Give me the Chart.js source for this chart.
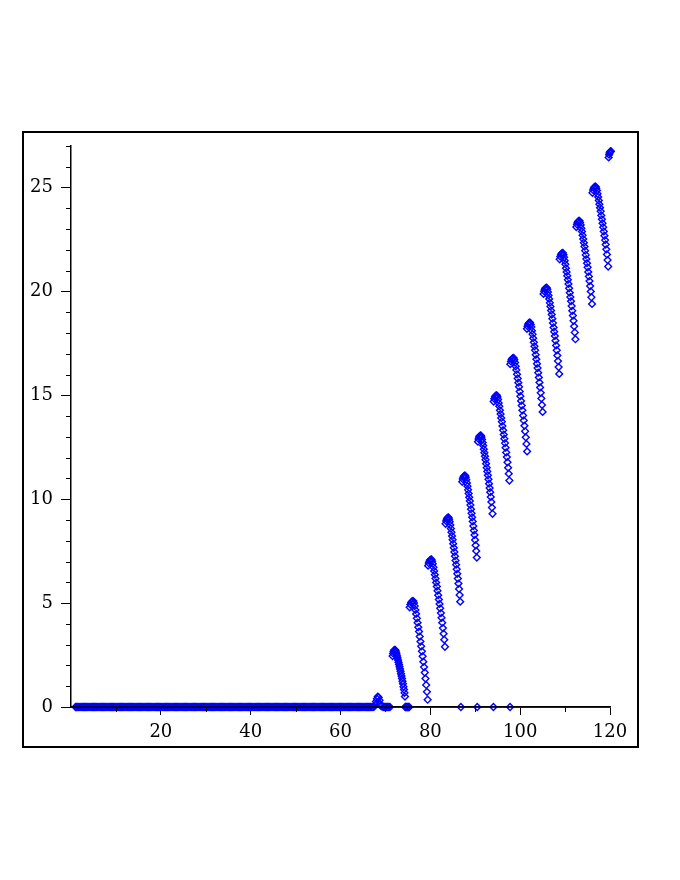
<!DOCTYPE html>
<html>
<head>
<meta charset="utf-8">
<script src="https://cdn.jsdelivr.net/npm/chart.js@4.4.1/dist/chart.umd.min.js"></script>
<style>
html,body{margin:0;padding:0;background:#ffffff;}
#wrap{width:680px;height:880px;position:relative;}
canvas{display:block;}
</style>
</head>
<body>
<div id="wrap"><canvas id="c" width="680" height="880"></canvas></div>
<script>
// ---- tick labels ----
const xTickLabels = [20, 40, 60, 80, 100, 120];
const yTickLabels = [0, 5, 10, 15, 20, 25];
const xMinorTicks = [10, 30, 50, 70, 90, 110];
const yMinorTicks = [1,2,3,4,6,7,8,9,11,12,13,14,16,17,18,19,21,22,23,24,26,27];

// ---- data: points lying on y = 0 ----
const baseX = [1,1.5,2,2.5,3,3.5,4,4.5,5,5.5,6,6.5,7,7.5,8,8.5,9,9.5,10,10.5,11,11.5,12,12.5,13,13.5,14,14.5,15,15.5,16,16.5,17,17.5,18,18.5,19,19.5,20,20.5,21,21.5,22,22.5,23,23.5,24,24.5,25,25.5,26,26.5,27,27.5,28,28.5,29,29.5,30,30.5,31,31.5,32,32.5,33,33.5,34,34.5,35,35.5,36,36.5,37,37.5,38,38.5,39,39.5,40,40.5,41,41.5,42,42.5,43,43.5,44,44.5,45,45.5,46,46.5,47,47.5,48,48.5,49,49.5,50,50.5,51,51.5,52,52.5,53,53.5,54,54.5,55,55.5,56,56.5,57,57.5,58,58.5,59,59.5,60,60.5,61,61.5,62,62.5,63,63.5,64,64.5,65,65.5,66,66.5,67,69.5,70,70.5,71];
const baseXq = [1.25,1.75,2.25,2.75,3.25,3.75,4.25,4.75,5.25,5.75,6.25,6.75,7.25,7.75,8.25,8.75,9.25,9.75,10.25,10.75,11.25,11.75,12.25,12.75,13.25,13.75,14.25,14.75,15.25,15.75,16.25,16.75,17.25,17.75,18.25,18.75,19.25,19.75,20.25,20.75,21.25,21.75,22.25,22.75,23.25,23.75,24.25,24.75,25.25,25.75,26.25,26.75,27.25,27.75,28.25,28.75,29.25,29.75,30.25,30.75,31.25,31.75,32.25,32.75,33.25,33.75,34.25,34.75,35.25,35.75,36.25,36.75,37.25,37.75,38.25,38.75,39.25,39.75,40.25,40.75,41.25,41.75,42.25,42.75,43.25,43.75,44.25,44.75,45.25,45.75,46.25,46.75,47.25,47.75,48.25,48.75,49.25,49.75,50.25,50.75,51.25,51.75,52.25,52.75,53.25,53.75,54.25,54.75,55.25,55.75,56.25,56.75,57.25,57.75,58.25,58.75,59.25,59.75,60.25,60.75,61.25,61.75,62.25,62.75,63.25,63.75,64.25,64.75,65.25,65.75,66.25,66.75,67.25,69.75,70.25,70.75];
const zeroX = [74.4,74.55,74.7,74.85,75.0,75.15,75.3,86.8,90.45,94.05,97.75];

// ---- data: small bump and the rising teeth ----
const bump = [[67.5,0.02],[67.7,0.1],[67.9,0.26],[68.1,0.4],[68.3,0.5],[68.5,0.46],[68.7,0.32],[68.9,0.14],[69.1,0.03]];
const segA = [[71.6,2.45],[71.71,2.58],[71.82,2.67],[71.93,2.72],[72.04,2.745],[72.15,2.75],[72.26,2.71],[72.37,2.64],[72.48,2.55],[72.59,2.46],[72.7,2.36],[72.81,2.26],[72.92,2.15],[73.03,2.05],[73.14,1.94],[73.25,1.83],[73.36,1.72],[73.47,1.6],[73.58,1.49],[73.69,1.37],[73.8,1.24],[73.91,1.12],[74.02,0.98],[74.13,0.84],[74.24,0.68],[74.35,0.5]];
const segB = [[75.4,4.8],[75.56,4.93],[75.72,5.02],[75.88,5.07],[76.04,5.095],[76.2,5.1],[76.36,5.01],[76.52,4.86],[76.68,4.67],[76.84,4.48],[77,4.27],[77.16,4.06],[77.32,3.84],[77.48,3.63],[77.64,3.39],[77.8,3.15],[77.96,2.92],[78.12,2.68],[78.28,2.44],[78.44,2.18],[78.6,1.92],[78.76,1.66],[78.92,1.37],[79.08,1.06],[79.24,0.73],[79.4,0.35]];
const segC = [[79.5,6.8],[79.65,6.93],[79.8,7.02],[79.95,7.07],[80.1,7.095],[80.25,7.1],[80.4,7.02],[80.55,6.89],[80.7,6.72],[80.85,6.55],[81,6.37],[81.15,6.18],[81.3,5.99],[81.45,5.8],[81.6,5.59],[81.75,5.38],[81.9,5.17],[82.05,4.96],[82.2,4.75],[82.35,4.52],[82.5,4.29],[82.65,4.06],[82.8,3.8],[82.95,3.53],[83.1,3.24],[83.25,2.9]];
const segD = [[83.4,8.82],[83.53,8.95],[83.66,9.04],[83.79,9.09],[83.92,9.115],[84.05,9.12],[84.18,9.04],[84.31,8.92],[84.44,8.76],[84.57,8.59],[84.7,8.41],[84.83,8.23],[84.96,8.05],[85.09,7.86],[85.22,7.66],[85.35,7.46],[85.48,7.26],[85.61,7.05],[85.74,6.85],[85.87,6.63],[86,6.41],[86.13,6.18],[86.26,5.94],[86.39,5.68],[86.52,5.39],[86.65,5.07]];
const segE = [[87.1,10.84],[87.23,10.97],[87.36,11.06],[87.49,11.11],[87.62,11.135],[87.75,11.14],[87.88,11.06],[88.01,10.94],[88.14,10.78],[88.27,10.63],[88.4,10.45],[88.53,10.27],[88.66,10.09],[88.79,9.92],[88.92,9.72],[89.05,9.52],[89.18,9.32],[89.31,9.13],[89.44,8.93],[89.57,8.71],[89.7,8.49],[89.83,8.28],[89.96,8.04],[90.09,7.78],[90.22,7.51],[90.35,7.19]];
const segF = [[90.6,12.77],[90.73,12.9],[90.86,12.99],[90.99,13.04],[91.12,13.065],[91.25,13.07],[91.38,12.99],[91.51,12.88],[91.64,12.73],[91.77,12.58],[91.9,12.41],[92.03,12.24],[92.16,12.07],[92.29,11.9],[92.42,11.71],[92.55,11.52],[92.68,11.34],[92.81,11.15],[92.94,10.96],[93.07,10.75],[93.2,10.54],[93.33,10.34],[93.46,10.11],[93.59,9.87],[93.72,9.6],[93.85,9.3]];
const segG = [[94.1,14.7],[94.24,14.83],[94.38,14.92],[94.52,14.97],[94.66,14.995],[94.8,15],[94.94,14.92],[95.08,14.8],[95.22,14.63],[95.36,14.47],[95.5,14.28],[95.64,14.1],[95.78,13.91],[95.92,13.73],[96.06,13.52],[96.2,13.32],[96.34,13.11],[96.48,12.91],[96.62,12.7],[96.76,12.48],[96.9,12.25],[97.04,12.03],[97.18,11.78],[97.32,11.52],[97.46,11.23],[97.6,10.9]];
const segH = [[97.8,16.5],[97.95,16.63],[98.1,16.72],[98.25,16.77],[98.4,16.795],[98.55,16.8],[98.7,16.71],[98.85,16.58],[99,16.4],[99.15,16.22],[99.3,16.01],[99.45,15.81],[99.6,15.61],[99.75,15.41],[99.9,15.18],[100.05,14.96],[100.2,14.73],[100.35,14.51],[100.5,14.28],[100.65,14.03],[100.8,13.79],[100.95,13.54],[101.1,13.27],[101.25,12.98],[101.4,12.66],[101.55,12.3]];
const segI = [[101.5,18.2],[101.64,18.33],[101.78,18.42],[101.92,18.47],[102.06,18.495],[102.2,18.5],[102.34,18.41],[102.48,18.29],[102.62,18.11],[102.76,17.94],[102.9,17.75],[103.04,17.55],[103.18,17.36],[103.32,17.17],[103.46,16.95],[103.6,16.74],[103.74,16.52],[103.88,16.31],[104.02,16.09],[104.16,15.86],[104.3,15.62],[104.44,15.38],[104.58,15.12],[104.72,14.85],[104.86,14.54],[105,14.2]];
const segJ = [[105.2,19.88],[105.34,20.01],[105.48,20.1],[105.62,20.15],[105.76,20.175],[105.9,20.18],[106.04,20.1],[106.18,19.97],[106.32,19.81],[106.46,19.64],[106.6,19.45],[106.74,19.27],[106.88,19.08],[107.02,18.89],[107.16,18.69],[107.3,18.48],[107.44,18.27],[107.58,18.06],[107.72,17.86],[107.86,17.63],[108,17.4],[108.14,17.17],[108.28,16.92],[108.42,16.65],[108.56,16.36],[108.7,16.03]];
const segK = [[108.8,21.55],[108.94,21.68],[109.08,21.77],[109.22,21.82],[109.36,21.845],[109.5,21.85],[109.64,21.77],[109.78,21.64],[109.92,21.48],[110.06,21.31],[110.2,21.12],[110.34,20.94],[110.48,20.75],[110.62,20.56],[110.76,20.36],[110.9,20.15],[111.04,19.94],[111.18,19.73],[111.32,19.53],[111.46,19.3],[111.6,19.07],[111.74,18.84],[111.88,18.59],[112.02,18.32],[112.16,18.03],[112.3,17.7]];
const segL = [[112.5,23.1],[112.64,23.23],[112.78,23.32],[112.92,23.37],[113.06,23.395],[113.2,23.4],[113.34,23.32],[113.48,23.2],[113.62,23.04],[113.76,22.88],[113.9,22.7],[114.04,22.52],[114.18,22.34],[114.32,22.16],[114.46,21.96],[114.6,21.76],[114.74,21.56],[114.88,21.36],[115.02,21.16],[115.16,20.94],[115.3,20.72],[115.44,20.5],[115.58,20.26],[115.72,20],[115.86,19.72],[116,19.4]];
const segM = [[116.1,24.75],[116.24,24.88],[116.38,24.97],[116.52,25.02],[116.66,25.045],[116.8,25.05],[116.94,24.97],[117.08,24.86],[117.22,24.7],[117.36,24.55],[117.5,24.38],[117.64,24.2],[117.78,24.03],[117.92,23.86],[118.06,23.66],[118.2,23.47],[118.34,23.28],[118.48,23.09],[118.62,22.89],[118.76,22.68],[118.9,22.47],[119.04,22.26],[119.18,22.03],[119.32,21.78],[119.46,21.51],[119.6,21.2]];
const segN = [[119.7,26.45],[119.8,26.58],[119.9,26.66],[120.0,26.71],[120.1,26.74],[120.2,26.75]];

const teeth = [bump, segA, segB, segC, segD, segE, segF, segG, segH, segI, segJ, segK, segL, segM, segN];

const points = [];
baseX.forEach(x => points.push({x: x, y: 0}));
baseXq.forEach(x => points.push({x: x, y: 0}));
zeroX.forEach(x => points.push({x: x, y: 0}));
teeth.forEach(seg => seg.forEach(p => points.push({x: p[0], y: p[1]})));

const FONT = {family: "'DejaVu Serif', serif", size: 18};

const decor = {
  id: 'decor',
  afterDatasetsDraw(chart) {
    const ctx = chart.ctx;
    const xs = chart.scales.x, ys = chart.scales.y;
    ctx.save();
    ctx.strokeStyle = '#000';
    ctx.lineWidth = 1.5;
    const y0 = ys.getPixelForValue(0);
    const x0 = xs.getPixelForValue(0);
    ctx.beginPath();
    ctx.moveTo(x0, y0); ctx.lineTo(xs.getPixelForValue(120), y0);
    ctx.stroke();
    ctx.lineWidth = 1;
    ctx.beginPath();
    xMinorTicks.forEach(v => {
      const px = Math.round(xs.getPixelForValue(v)) + 0.5;
      ctx.moveTo(px, y0); ctx.lineTo(px, y0 + 5);
    });
    yMinorTicks.forEach(v => {
      const py = Math.round(ys.getPixelForValue(v)) + 0.5;
      ctx.moveTo(x0 - 5, py); ctx.lineTo(x0, py);
    });
    ctx.stroke();
    ctx.lineWidth = 2;
    ctx.strokeRect(23, 132, 615, 615);
    ctx.restore();
  }
};

new Chart(document.getElementById('c'), {
  type: 'scatter',
  data: {
    datasets: [{
      data: points,
      showLine: false,
      pointStyle: 'rectRot',
      pointRadius: 3.4,
      pointHoverRadius: 3.4,
      pointBorderWidth: 1.4,
      borderColor: '#0000ff',
      pointBorderColor: '#0000ff',
      pointBackgroundColor: 'rgba(0,0,0,0)',
      backgroundColor: 'rgba(0,0,0,0)',
      clip: false
    }]
  },
  options: {
    responsive: false,
    animation: false,
    devicePixelRatio: 1,
    layout: {padding: {left: 0, right: 70, top: 146, bottom: 133}},
    plugins: {legend: {display: false}, tooltip: {enabled: false}},
    scales: {
      x: {
        type: 'linear', position: 'bottom', min: 0, max: 120,
        afterBuildTicks: s => { s.ticks = [0].concat(xTickLabels).map(v => ({value: v})); },
        afterFit: s => { s.height = 40; },
        ticks: {
          font: FONT, color: '#000', padding: 7, maxRotation: 0, autoSkip: false,
          callback: v => (v === 0 ? '' : String(v))
        },
        grid: {
          display: true, drawOnChartArea: false, drawTicks: true, tickLength: 8,
          tickWidth: 1,
          tickColor: c => (c.tick && c.tick.value === 0 ? 'rgba(0,0,0,0)' : '#000')
        },
        border: {display: true, color: '#000', width: 1.5}
      },
      y: {
        type: 'linear', position: 'left', min: 0, max: 27,
        afterBuildTicks: s => { s.ticks = yTickLabels.map(v => ({value: v})); },
        afterFit: s => { s.width = 71; },
        ticks: {font: FONT, color: '#000', padding: 8, autoSkip: false,
                callback: v => String(v)},
        grid: {display: true, drawOnChartArea: false, drawTicks: true, tickLength: 10,
               tickWidth: 1, tickColor: '#000'},
        border: {display: true, color: '#000', width: 1.5}
      }
    }
  },
  plugins: [decor]
});
</script>
</body>
</html>
